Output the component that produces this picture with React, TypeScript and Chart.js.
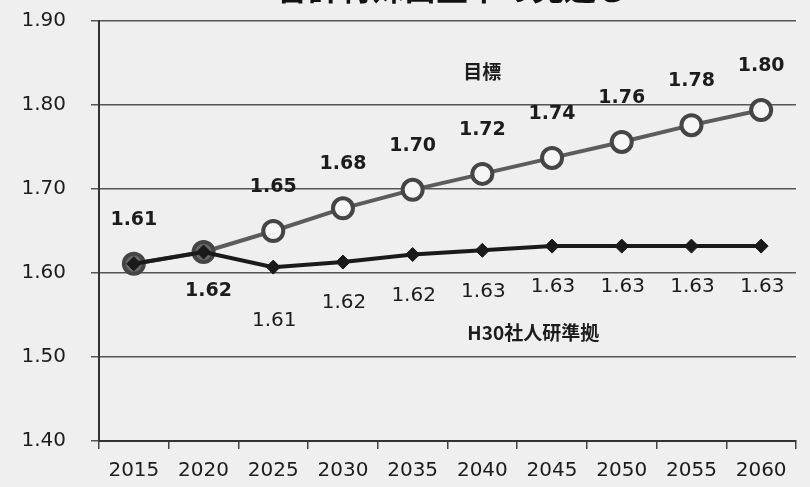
import React, { useEffect, useRef } from "react";
import { Chart, registerables } from "chart.js";

Chart.register(...registerables);

const categories = ["2015", "2020", "2025", "2030", "2035", "2040", "2045", "2050", "2055", "2060"];
// 目標 (target) series
const targetValues = [1.611, 1.625, 1.65, 1.677, 1.699, 1.718, 1.737, 1.756, 1.776, 1.794];
const targetLabels = ["1.61", "1.62", "1.65", "1.68", "1.70", "1.72", "1.74", "1.76", "1.78", "1.80"];
// H30社人研準拠 series
const baseValues = [1.611, 1.625, 1.607, 1.613, 1.622, 1.627, 1.632, 1.632, 1.632, 1.632];
const baseLabels = ["", "", "1.61", "1.62", "1.62", "1.63", "1.63", "1.63", "1.63", "1.63"];
const yTicks = [1.4, 1.5, 1.6, 1.7, 1.8, 1.9];
const titleText = "合計特殊出生率の見通し";
const targetName = "目標";
const baseName = "H30社人研準拠";

const NUM_FONT = "'DejaVu Sans', Verdana, sans-serif";
const CJK_FONT = "'Noto Sans CJK JP', 'DejaVu Sans', sans-serif";

const labelPlugin = {
  id: "valueLabels",
  afterDatasetsDraw(chart: any) {
    const ctx = chart.ctx;
    const x = chart.scales.x;
    const y = chart.scales.y;
    ctx.save();
    ctx.textAlign = "center";
    ctx.textBaseline = "middle";
    ctx.fillStyle = "#1c1c1c";
    // target labels (bold)
    ctx.font = `bold 19px ${NUM_FONT}`;
    targetLabels.forEach((t, i) => {
      if (!t) return;
      const px = x.getPixelForValue(i);
      const py = y.getPixelForValue(targetValues[i]);
      if (i === 1) {
        ctx.fillText(t, px + 5, py + 39);
      } else {
        ctx.fillText(t, px, py - 44);
      }
    });
    // base labels (regular)
    ctx.font = `20px ${NUM_FONT}`;
    baseLabels.forEach((t, i) => {
      if (!t) return;
      const px = x.getPixelForValue(i);
      const py = y.getPixelForValue(baseValues[i]);
      const off = i === 2 ? 54 : 41;
      ctx.fillText(t, px + 1, py + off);
    });
    // series names
    ctx.font = `bold 19px ${CJK_FONT}`;
    ctx.fillText(targetName, x.getPixelForValue(5), y.getPixelForValue(1.84));
    ctx.fillText(baseName, x.getPixelForValue(5.73), y.getPixelForValue(1.529));
    // clipped title at top
    ctx.font = `bold 32px ${CJK_FONT}`;
    ctx.textBaseline = "alphabetic";
    ctx.fillStyle = "#111";
    ctx.fillText(titleText, 452, 0);
    ctx.restore();
  },
};

const bgPlugin = {
  id: "bg",
  beforeDraw(chart: any) {
    const ctx = chart.ctx;
    ctx.save();
    ctx.fillStyle = "#efefef";
    ctx.fillRect(0, 0, chart.width, chart.height);
    ctx.restore();
  },
};

export default function App() {
  const ref = useRef<HTMLCanvasElement>(null);
  useEffect(() => {
    if (!ref.current) return;
    const chart = new Chart(ref.current, {
      type: "line",
      data: {
        labels: categories,
        datasets: [
          {
            label: baseName,
            data: baseValues,
            borderColor: "#1a1a1a",
            borderWidth: 4,
            pointStyle: "rectRot",
            pointRadius: 7,
            pointBackgroundColor: "#1a1a1a",
            pointBorderColor: "#1a1a1a",
            pointBorderWidth: 1,
            tension: 0,
          },
          {
            label: targetName,
            data: targetValues,
            borderColor: "#5c5c5c",
            borderWidth: 4,
            pointStyle: "circle",
            pointRadius: 10,
            pointBorderWidth: 4,
            pointBorderColor: "#454545",
            pointBackgroundColor: targetValues.map((_, i) => (i < 2 ? "#6a6a6a" : "#f6f6f6")),
            tension: 0,
          },
        ],
      },
      options: {
        animation: false,
        responsive: false,
        devicePixelRatio: 1,
        layout: { padding: { top: 21, right: 7, left: 0, bottom: 0 } },
        plugins: {
          legend: { display: false },
          tooltip: { enabled: false },
          title: { display: false },
        },
        scales: {
          x: {
            type: "category",
            offset: true,
            grid: {
              display: true,
              drawOnChartArea: false,
              offset: true,
              tickLength: 8,
              color: "#444",
              lineWidth: 1.5,
            },
            border: { color: "#333", width: 2 },
            ticks: {
              font: { family: NUM_FONT, size: 20 },
              color: "#1c1c1c",
              padding: 10,
              maxRotation: 0,
              autoSkip: false,
            },
            afterFit: (s: any) => {
              s.height = 46;
              s.paddingLeft = 0;
              s.paddingRight = 0;
            },
          },
          y: {
            min: yTicks[0],
            max: yTicks[yTicks.length - 1],
            afterBuildTicks: (s: any) => {
              s.ticks = yTicks.map((v) => ({ value: v }));
            },
            grid: { color: "#555", lineWidth: 1.5, tickLength: 8 },
            border: { color: "#333", width: 2 },
            ticks: {
              font: { family: NUM_FONT, size: 20 },
              color: "#1c1c1c",
              padding: 25,
              callback: (v: any) => Number(v).toFixed(2),
            },
            afterFit: (s: any) => {
              s.width = 99;
              s.paddingTop = 0;
              s.paddingBottom = 0;
            },
          },
        },
      },
      plugins: [bgPlugin, labelPlugin],
    });
    return () => chart.destroy();
  }, []);
  return (
    <div style={{ position: "absolute", left: 0, top: 0, width: 810, height: 487, background: "#efefef" }}>
      <canvas ref={ref} width={810} height={487} style={{ display: "block", width: 810, height: 487 }} />
    </div>
  );
}
